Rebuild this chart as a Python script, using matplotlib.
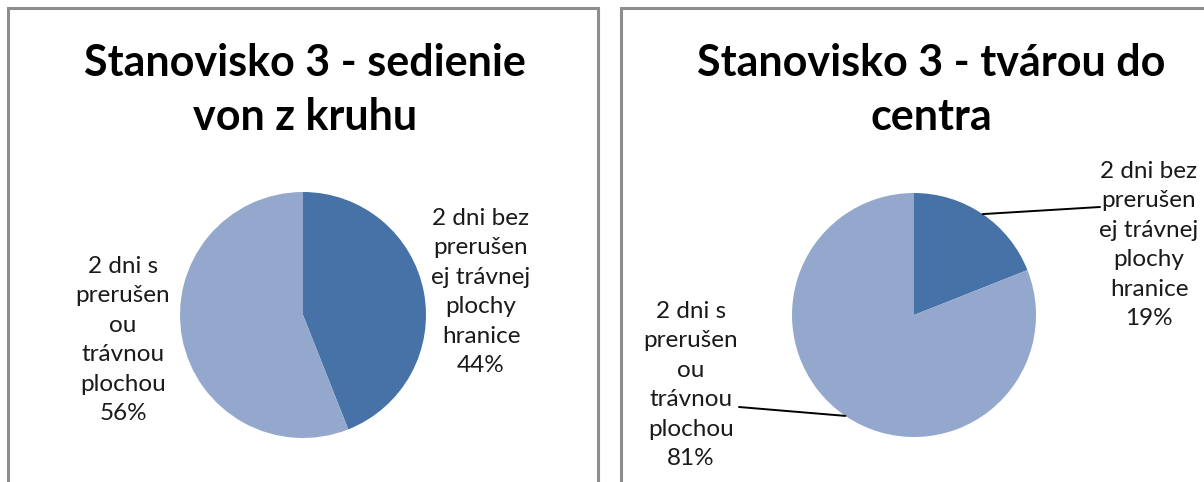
import numpy as np
import matplotlib
matplotlib.use("Agg")
import matplotlib.pyplot as plt
from matplotlib.patches import Rectangle

# Data for the two pie charts
titles = ["Stanovisko 3 - sedienie\nvon z kruhu", "Stanovisko 3 - tvárou do\ncentra"]
categories = ["2 dni bez\nprerušen\nej trávnej\nplochy\nhranice",
              "2 dni s\nprerušen\nou\ntrávnou\nplochou"]
left_values = [44, 56]
right_values = [19, 81]

colors = ["#4672A8", "#94A8CE"]
border = "#8E8E8E"

W, H = 1204, 482
fig = plt.figure(figsize=(W / 100, H / 100), dpi=100)
fig.patch.set_facecolor("white")

title_font = "Lato"
label_font = "Lato"


def px(x0, y0, w, h):
    """Pixel box (top-left origin) -> figure fraction rect."""
    return [x0 / W, 1 - (y0 + h) / H, w / W, h / H]


# Chart panels (frames run past the bottom/right edges)
fig.add_artist(Rectangle((8 / W, -0.1), (598 - 8) / W, 1.1 - 8 / H,
                         transform=fig.transFigure, fill=False,
                         edgecolor=border, linewidth=2.2))
fig.add_artist(Rectangle((621 / W, -0.1), 0.8, 1.1 - 8 / H,
                         transform=fig.transFigure, fill=False,
                         edgecolor=border, linewidth=2.2))


def draw_pie(center, radius, values, title, title_x, label_pos, leaders):
    cx, cy = center
    ax = fig.add_axes(px(cx - radius, cy - radius, 2 * radius, 2 * radius))
    wedges, _ = ax.pie(values, colors=colors, startangle=90, counterclock=False,
                       radius=1.0, wedgeprops=dict(linewidth=0))
    ax.set_xlim(-1, 1)
    ax.set_ylim(-1, 1)
    ax.set_aspect("equal")
    ax.axis("off")

    total = sum(values)
    for i, (w, v) in enumerate(zip(wedges, values)):
        text = f"{categories[i]}\n{round(100 * v / total)}%"
        lx, ly = label_pos[i]
        fig.text(lx / W, 1 - ly / H, text, ha="center", va="center",
                 fontsize=17.5, family=label_font, color="#1a1a1a",
                 linespacing=1.5)
        if leaders[i] is not None:
            mid = np.deg2rad((w.theta1 + w.theta2) / 2)
            sx, sy = np.cos(mid), np.sin(mid)
            ex, ey = leaders[i]
            ax.annotate("", xy=(sx, sy), xycoords="data",
                        xytext=(ex / W, 1 - ey / H), textcoords="figure fraction",
                        arrowprops=dict(arrowstyle="-", color="black", lw=1.4,
                                        shrinkA=0, shrinkB=0))

    fig.text(title_x / W, 1 - 90 / H, title, ha="center", va="center",
             fontsize=31, fontweight="bold", family=title_font, color="black",
             linespacing=1.45)


draw_pie((303, 315), 123, left_values, titles[0], 305,
         [(481, 292), (123, 340)], [None, None])
draw_pie((914, 315), 122, right_values, titles[1], 931,
         [(1149, 245), (691, 385)], [(1100, 207), (739, 407)])

fig.savefig("out.png", dpi=100, facecolor="white")
